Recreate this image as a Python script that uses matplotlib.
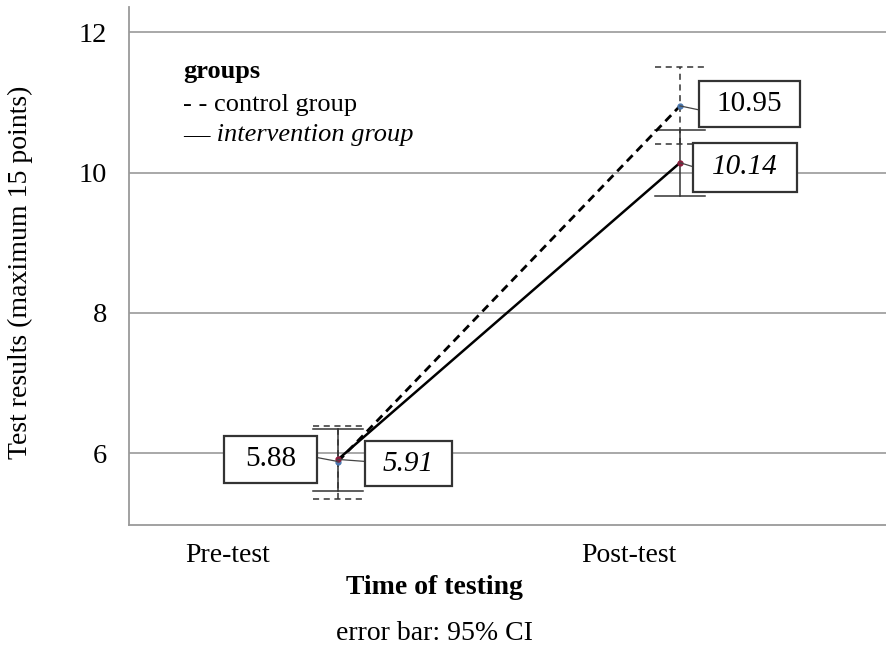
import matplotlib
matplotlib.use("Agg")
import matplotlib.pyplot as plt
import matplotlib.transforms as mtransforms
from matplotlib.patches import Rectangle

plt.rcParams['font.family'] = ['Liberation Serif', 'DejaVu Serif']

# ---- data ----
categories = ["Pre-test", "Post-test"]
x_pos = [0, 1]
control_mean = [5.88, 10.95]
control_lo = [5.34, 10.40]
control_hi = [6.39, 11.51]
interv_mean = [5.91, 10.14]
interv_lo = [5.46, 9.67]
interv_hi = [6.34, 10.61]
control_labels = ["5.88", "10.95"]
interv_labels = ["5.91", "10.14"]
yticks = [6, 8, 10, 12]

fig = plt.figure(figsize=(8.87, 6.47), dpi=100)
ax = fig.add_axes([129/887, 122/647, 758/887, 518/647])
ax.set_xlim(-0.611, 1.605)
ax.set_ylim(4.975, 12.36)

grey = "#9a9a9a"
for s in ["top", "right"]:
    ax.spines[s].set_visible(False)
for s in ["left", "bottom"]:
    ax.spines[s].set_color(grey)
    ax.spines[s].set_linewidth(1.3)

ax.set_yticks(yticks)
ax.set_yticklabels([str(v) for v in yticks], fontsize=20.5)
ax.tick_params(axis='y', length=0, pad=16)
ax.yaxis.grid(True, color=grey, linewidth=1.2)
ax.set_axisbelow(True)

label_off = [-0.322, -0.149]  # tick labels shifted left of the points
ax.set_xticks([x + o for x, o in zip(x_pos, label_off)])
ax.set_xticklabels(categories, fontsize=20)
ax.tick_params(axis='x', length=0, pad=13)

# error bars
cap = 0.073
eb_col = "#333333"
for x, lo, hi in zip(x_pos, interv_lo, interv_hi):
    ax.plot([x, x], [lo, hi], color=eb_col, lw=1.1, zorder=3)
    ax.plot([x - cap, x + cap], [lo, lo], color=eb_col, lw=1.1, zorder=3)
    ax.plot([x - cap, x + cap], [hi, hi], color=eb_col, lw=1.1, zorder=3)
for x, lo, hi in zip(x_pos, control_lo, control_hi):
    ax.plot([x, x], [lo, hi], color=eb_col, lw=1.1, ls=(0, (4, 3)), zorder=3)
    ax.plot([x - cap, x + cap], [lo, lo], color=eb_col, lw=1.1, ls=(0, (4, 3)), zorder=3)
    ax.plot([x - cap, x + cap], [hi, hi], color=eb_col, lw=1.1, ls=(0, (4, 3)), zorder=3)

# lines
ax.plot(x_pos, control_mean, color="black", lw=2.0, ls=(0, (3, 2)), zorder=4)
ax.plot(x_pos, interv_mean, color="black", lw=1.8, zorder=4)
ax.plot(x_pos, control_mean, ls="none", marker="o", ms=3.5, color="#4a78b0", zorder=5)
ax.plot(x_pos, interv_mean, ls="none", marker="o", ms=3.5, color="#8c1c3c", zorder=5)

# value boxes: (dx, dy, w, h, leader_dx, leader_dy) in pixels
box_specs_c = [(-67.5, 2.5, 93, 47, -21, 4), (69.5, 2.0, 101, 46, 19, -4)]
box_specs_i = [(70.5, -4.5, 87, 45, 27, -2), (65.0, -4.5, 104, 49, 13, -4)]

def value_box(x, y, text, spec, italic):
    dx, dy, w, h, ldx, ldy = spec
    tr = mtransforms.IdentityTransform() + mtransforms.ScaledTranslation(x, y, ax.transData)
    ax.add_line(plt.Line2D([0, ldx], [0, ldy], transform=tr, color="#444444", lw=0.9, zorder=5))
    ax.add_patch(Rectangle((dx - w/2, dy - h/2), w, h, transform=tr, facecolor="white",
                           edgecolor="#333333", lw=1.6, zorder=6, clip_on=False))
    ax.annotate(text, xy=(x, y), xytext=(dx, dy), textcoords="offset pixels",
                ha="center", va="center", fontsize=21, zorder=7,
                style="italic" if italic else "normal", annotation_clip=False)

for x, y, t, sp in zip(x_pos, control_mean, control_labels, box_specs_c):
    value_box(x, y, t, sp, False)
for x, y, t, sp in zip(x_pos, interv_mean, interv_labels, box_specs_i):
    value_box(x, y, t, sp, True)

# legend (text)
lx = (183 - 129) / 758
ax.text(lx, 0.863, "groups", transform=ax.transAxes, fontsize=19, fontweight="bold", va="baseline")
ax.text(lx, 0.799, "- - control group", transform=ax.transAxes, fontsize=19, va="baseline")
t_dash = ax.text(lx, 0.741, "\u2014", transform=ax.transAxes, fontsize=19, va="baseline")
ax.annotate(" intervention group", xy=(1, 0), xycoords=t_dash, fontsize=19,
            style="italic", va="bottom", ha="left")

# axis titles
fig.text(20/887, 1 - 272/647, "Test results (maximum 15 points)", rotation=90,
         ha="center", va="center", fontsize=20)
fig.text(434/887, 1 - 588/647, "Time of testing", ha="center", va="center",
         fontsize=20, fontweight="bold")
fig.text(434/887, 1 - 633/647, "error bar: 95% CI", ha="center", va="center", fontsize=20)

fig.savefig("out.png", dpi=100)
